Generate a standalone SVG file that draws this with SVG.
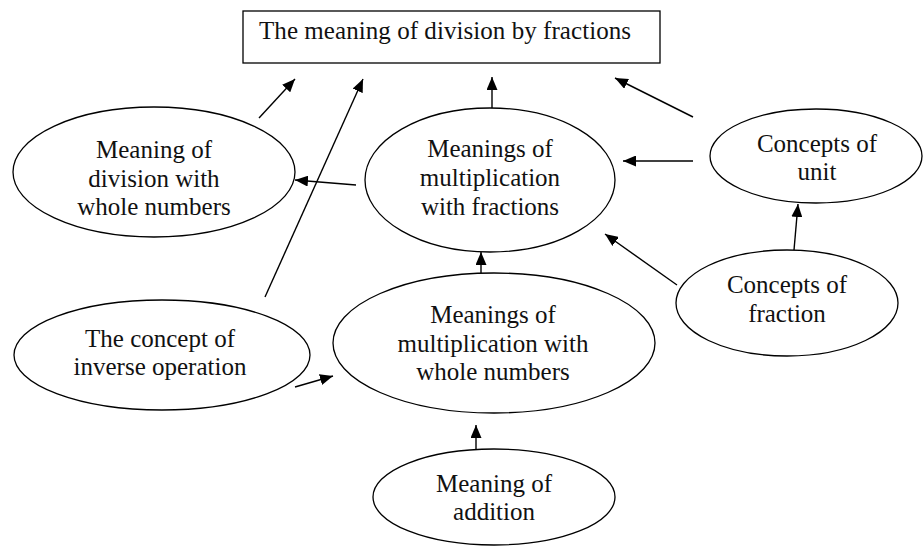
<svg xmlns="http://www.w3.org/2000/svg" width="924" height="550" viewBox="0 0 924 550">
<style>
.node ellipse, .node rect { fill: #fff; stroke: #000; stroke-width: 1.3; }
text { font-family: "Liberation Serif", "Times New Roman", serif; font-size: 25px; fill: #111; text-anchor: middle; }
.conn line { stroke: #000; stroke-width: 1.4; marker-end: url(#arr); }
</style>
<defs>
<marker id="arr" markerUnits="userSpaceOnUse" markerWidth="13" markerHeight="11" refX="13" refY="5.5" orient="auto">
<path d="M0,0 L13,5.5 L0,11 z" fill="#000"/>
</marker>
</defs>
<rect width="924" height="550" fill="#fff"/>
<g id="goal" class="node">
<rect x="243" y="11" width="417" height="52"/>
<text x="445" y="39" textLength="372">The meaning of division by fractions</text>
</g>
<g id="divWhole" class="node">
<ellipse cx="154" cy="172" rx="141" ry="65"/>
<text x="154" y="158">Meaning of</text>
<text x="154" y="187">division with</text>
<text x="154" y="215">whole numbers</text>
</g>
<g id="multFrac" class="node">
<ellipse cx="490" cy="180" rx="125" ry="72"/>
<text x="490" y="157">Meanings of</text>
<text x="490" y="186">multiplication</text>
<text x="490" y="215">with fractions</text>
</g>
<g id="unit" class="node">
<ellipse cx="816" cy="156" rx="106" ry="47"/>
<text x="817" y="152">Concepts of</text>
<text x="817" y="180">unit</text>
</g>
<g id="fraction" class="node">
<ellipse cx="787" cy="303" rx="111" ry="53"/>
<text x="787" y="293">Concepts of</text>
<text x="787" y="322">fraction</text>
</g>
<g id="inverse" class="node">
<ellipse cx="162" cy="355" rx="148" ry="55"/>
<text x="160" y="347">The concept of</text>
<text x="160" y="375">inverse operation</text>
</g>
<g id="multWhole" class="node">
<ellipse cx="494" cy="343" rx="161" ry="70"/>
<text x="493" y="323">Meanings of</text>
<text x="493" y="352">multiplication with</text>
<text x="493" y="380">whole numbers</text>
</g>
<g id="addition" class="node">
<ellipse cx="494" cy="497" rx="121" ry="48"/>
<text x="494" y="492">Meaning of</text>
<text x="494" y="520">addition</text>
</g>
<g id="connectors" class="conn">
<line x1="259" y1="118" x2="295" y2="79"/>
<line x1="265" y1="297" x2="363" y2="79"/>
<line x1="492" y1="108" x2="492" y2="77"/>
<line x1="693" y1="117" x2="615" y2="78"/>
<line x1="356" y1="185" x2="295" y2="180"/>
<line x1="693" y1="161" x2="623" y2="161"/>
<line x1="794" y1="250" x2="798" y2="204"/>
<line x1="677" y1="285" x2="605" y2="234"/>
<line x1="481" y1="273" x2="481" y2="252"/>
<line x1="295" y1="387" x2="333" y2="376"/>
<line x1="476" y1="449" x2="476" y2="425"/>
</g>
</svg>
